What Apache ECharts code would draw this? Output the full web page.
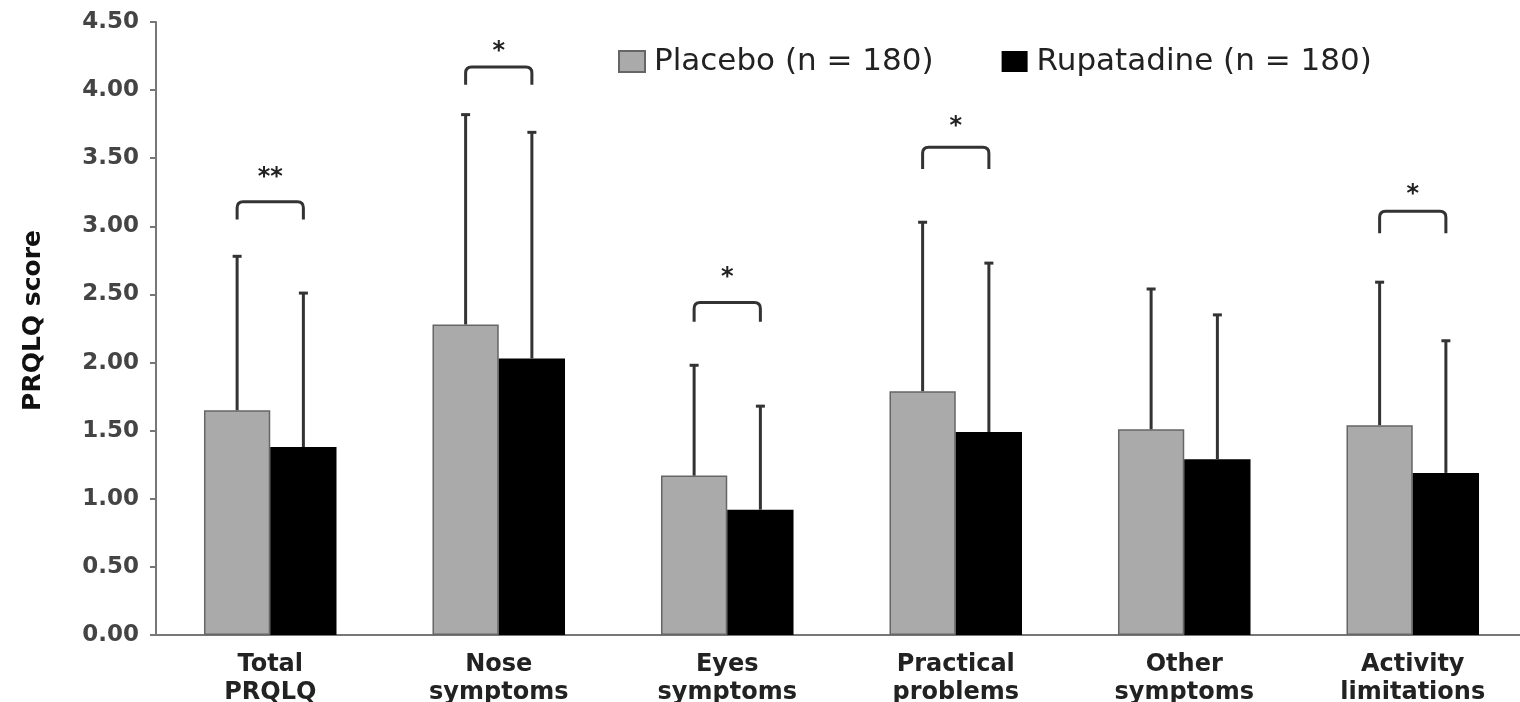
<!DOCTYPE html>
<html>
<head>
<meta charset="utf-8">
<script src="https://cdn.jsdelivr.net/npm/echarts@6/dist/echarts.min.js"></script>
<style>
  html, body { margin: 0; padding: 0; background: #ffffff; }
  #chart { width: 1520px; height: 702px; }
</style>
</head>
<body>
<div id="chart"></div>
<script>
// categories and values
const categories = ['Total\nPRQLQ', 'Nose\nsymptoms', 'Eyes\nsymptoms', 'Practical\nproblems', 'Other\nsymptoms', 'Activity\nlimitations'];
const placeboMean = [1.65, 2.28, 1.17, 1.79, 1.51, 1.54];
const placeboUpper = [2.78, 3.82, 1.98, 3.03, 2.54, 2.59];
const rupatadineMean = [1.38, 2.03, 0.92, 1.49, 1.29, 1.19];
const rupatadineUpper = [2.51, 3.69, 1.68, 2.73, 2.35, 2.16];
const yTicks = { min: 0, max: 4.5, interval: 0.5 };

// significance brackets: [category index, leg bottom, bracket top, star y, label]
const brackets = [
    [0, 3.05, 3.18, 3.36, '**'],
    [1, 4.04, 4.17, 4.28, '*'],
    [2, 2.30, 2.44, 2.62, '*'],
    [3, 3.42, 3.58, 3.73, '*'],
    [5, 2.95, 3.11, 3.23, '*']
];

const BAR_RATIO = 0.29;

const chart = echarts.init(document.getElementById('chart'));

function errorBarItem(side) {
    return function (params, api) {
        const idx = api.value(0);
        const band = api.size([1, 0])[0];
        const shift = side * band * BAR_RATIO / 2;
        const bottom = api.coord([idx, api.value(1)]);
        const top = api.coord([idx, api.value(2)]);
        const x = bottom[0] + shift;
        const style = { stroke: '#333333', lineWidth: 3 };
        return {
            type: 'group',
            children: [
                { type: 'line', shape: { x1: x, y1: bottom[1], x2: x, y2: top[1] }, style },
                { type: 'line', shape: { x1: x - 4.5, y1: top[1], x2: x + 4.5, y2: top[1] }, style }
            ]
        };
    };
}

function bracketItem(params, api) {
    const idx = api.value(0);
    const band = api.size([1, 0])[0];
    const half = band * BAR_RATIO / 2;
    const c = api.coord([idx, api.value(2)]);
    const leg = api.coord([idx, api.value(1)]);
    const star = api.coord([idx, api.value(3)]);
    const l = c[0] - half, r = c[0] + half, ty = c[1], ly = leg[1], rad = 6;
    const d = `M${l},${ly} L${l},${ty + rad} Q${l},${ty} ${l + rad},${ty} L${r - rad},${ty} Q${r},${ty} ${r},${ty + rad} L${r},${ly}`;
    return {
        type: 'group',
        children: [
            { type: 'path', shape: { pathData: d }, style: { stroke: '#333333', lineWidth: 3, fill: null } },
            {
                type: 'text',
                x: c[0], y: star[1],
                style: {
                    text: brackets[params.dataIndex][4],
                    fill: '#222222',
                    font: 'bold 24px "DejaVu Sans", sans-serif',
                    align: 'center', verticalAlign: 'middle'
                }
            }
        ]
    };
}

const option = {
    backgroundColor: '#ffffff',
    animation: false,
    grid: { left: 156, right: -7, top: 22, bottom: 67, outerBoundsMode: 'none', containLabel: false },
    legend: {
        left: 613,
        top: 41,
        icon: 'rect',
        itemWidth: 26,
        itemHeight: 21,
        itemGap: 68,
        data: ['Placebo (n = 180)', 'Rupatadine (n = 180)'],
        textStyle: {
            fontFamily: '"DejaVu Sans", sans-serif',
            fontSize: 31,
            color: '#222222',
            padding: [0, 0, 0, 4]
        }
    },
    xAxis: {
        type: 'category',
        data: categories,
        axisLine: { lineStyle: { color: '#777777', width: 2 } },
        axisTick: { length: 5, lineStyle: { color: '#555555', width: 2 } },
        axisLabel: {
            interval: 0,
            margin: 16,
            color: '#222222',
            fontWeight: 'bold',
            fontSize: 24,
            lineHeight: 28,
            fontFamily: '"DejaVu Sans", sans-serif'
        }
    },
    yAxis: {
        type: 'value',
        min: yTicks.min,
        max: yTicks.max,
        interval: yTicks.interval,
        name: 'PRQLQ score',
        nameLocation: 'middle',
        nameGap: 110,
        nameTextStyle: {
            fontFamily: '"DejaVu Sans", sans-serif',
            fontWeight: 'bold',
            fontSize: 25,
            color: '#111111',
            padding: [0, 0, 0, 16]
        },
        axisLine: { show: true, lineStyle: { color: '#777777', width: 2 } },
        axisTick: { show: true, length: 6, lineStyle: { color: '#777777', width: 2 } },
        splitLine: { show: false },
        axisLabel: {
            margin: 17,
            color: '#444444',
            fontWeight: 'bold',
            fontSize: 23,
            fontFamily: '"DejaVu Sans", sans-serif',
            formatter: (v) => v.toFixed(2)
        }
    },
    series: [
        {
            name: 'Placebo (n = 180)',
            type: 'bar',
            data: placeboMean,
            barWidth: (BAR_RATIO * 100) + '%',
            barGap: '0%',
            itemStyle: { color: '#aaaaaa', borderColor: '#666666', borderWidth: 1.5 }
        },
        {
            name: 'Rupatadine (n = 180)',
            type: 'bar',
            data: rupatadineMean,
            barWidth: (BAR_RATIO * 100) + '%',
            barGap: '0%',
            itemStyle: { color: '#000000' }
        },
        {
            type: 'custom',
            renderItem: errorBarItem(-1),
            data: placeboMean.map((m, i) => [i, m, placeboUpper[i]]),
            z: 5
        },
        {
            type: 'custom',
            renderItem: errorBarItem(1),
            data: rupatadineMean.map((m, i) => [i, m, rupatadineUpper[i]]),
            z: 5
        },
        {
            type: 'custom',
            renderItem: bracketItem,
            data: brackets.map((b) => [b[0], b[1], b[2], b[3]]),
            z: 6
        }
    ]
};

chart.setOption(option);
</script>
</body>
</html>
